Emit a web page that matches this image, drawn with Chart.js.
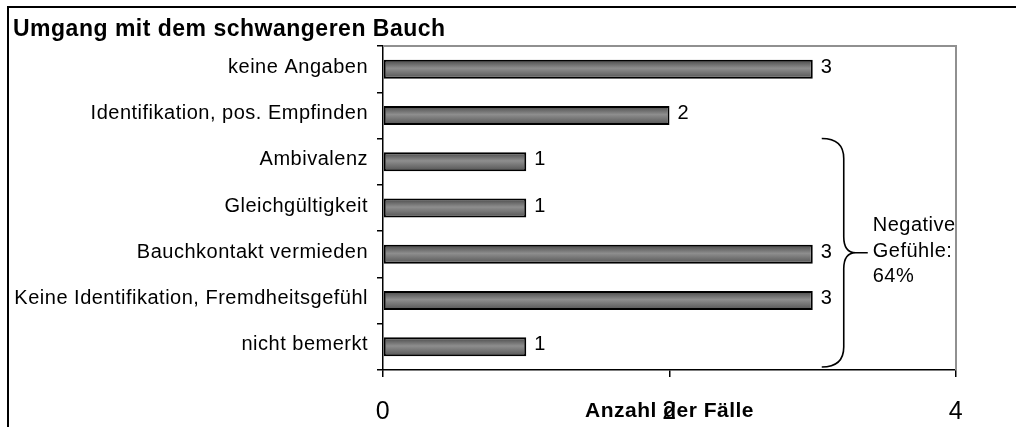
<!DOCTYPE html>
<html>
<head>
<meta charset="utf-8">
<title>Umgang mit dem schwangeren Bauch</title>
<script src="https://cdn.jsdelivr.net/npm/chart.js"></script>
<style>
  html, body { margin: 0; padding: 0; background: #fff; }
  #chart { display: block; }
</style>
</head>
<body>
<canvas id="chart" width="1016" height="427"></canvas>
<script>
// Daten
const categories = [
  'keine Angaben',
  'Identifikation, pos. Empfinden',
  'Ambivalenz',
  'Gleichgültigkeit',
  'Bauchkontakt vermieden',
  'Keine Identifikation, Fremdheitsgefühl',
  'nicht bemerkt'
];
const counts = [3, 2, 1, 1, 3, 3, 1];
const xTicks = [0, 2, 4];
// Klammer: von "Ambivalenz" bis "nicht bemerkt"
const braceFrom = 2;
const braceTo = 6;
const braceText = ['Negative', 'Gefühle:', '64%'];

Chart.defaults.font.family = "'Liberation Sans', Arial, sans-serif";
Chart.defaults.color = '#000';

function barFill(context) {
  const chart = context.chart;
  if (!chart.chartArea || !chart.scales.y) return '#777777';
  const y = chart.scales.y.getPixelForValue(context.dataIndex);
  const g = chart.ctx.createLinearGradient(0, y - 9, 0, y + 9);
  g.addColorStop(0, '#4a4a4a');
  g.addColorStop(0.45, '#8e8e8e');
  g.addColorStop(1, '#555555');
  return g;
}

const decor = {
  id: 'decor',
  beforeDraw(chart) {
    const c = chart.ctx;
    c.letterSpacing = '0.5px';
    // äußerer Rahmen (oben + links)
    c.save();
    c.strokeStyle = '#000';
    c.lineWidth = 2;
    c.beginPath();
    c.moveTo(8, chart.height);
    c.lineTo(8, 7);
    c.lineTo(chart.width, 7);
    c.stroke();
    c.restore();
  },
  beforeDatasetsDraw(chart) {
    const c = chart.ctx;
    const a = chart.chartArea;
    c.save();
    c.strokeStyle = '#909090';
    c.lineWidth = 2;
    c.beginPath();
    c.moveTo(a.left, a.top);
    c.lineTo(a.right, a.top);
    c.lineTo(a.right, a.bottom);
    c.stroke();
    c.restore();
  },
  afterDatasetsDraw(chart) {
    const c = chart.ctx;
    const meta = chart.getDatasetMeta(0);
    c.save();
    c.fillStyle = '#000';
    c.font = "20px 'Liberation Sans', Arial, sans-serif";
    c.textAlign = 'left';
    c.textBaseline = 'middle';
    meta.data.forEach((bar, i) => {
      c.fillText(String(counts[i]), bar.x + 8, bar.y - 2);
    });

    // geschweifte Klammer
    const ys = chart.scales.y, xs = chart.scales.x;
    const half = (ys.getPixelForValue(1) - ys.getPixelForValue(0)) / 2;
    const top = ys.getPixelForValue(braceFrom) - half;
    const bot = ys.getPixelForValue(braceTo) + half - 3;
    const mid = (top + bot) / 2;
    const x0 = xs.getPixelForValue(3) + 9;
    const x1 = x0 + 22;
    const x2 = x1 + 12;
    const x3 = x2 + 12;
    c.strokeStyle = '#000';
    c.lineWidth = 1.6;
    c.beginPath();
    c.moveTo(x0, top);
    c.quadraticCurveTo(x1, top, x1, top + 20);
    c.lineTo(x1, mid - 16);
    c.quadraticCurveTo(x1, mid, x2, mid);
    c.quadraticCurveTo(x1, mid, x1, mid + 16);
    c.lineTo(x1, bot - 20);
    c.quadraticCurveTo(x1, bot, x0, bot);
    c.moveTo(x2, mid);
    c.lineTo(x3, mid);
    c.stroke();

    c.font = "20px 'Liberation Sans', Arial, sans-serif";
    c.textBaseline = 'alphabetic';
    braceText.forEach((t, i) => {
      c.fillText(t, x3 + 5, mid - 21.5 + i * 25.5);
    });
    c.restore();
  }
};

const ctx = document.getElementById('chart').getContext('2d');
new Chart(ctx, {
  type: 'bar',
  data: {
    labels: categories,
    datasets: [{
      data: counts,
      backgroundColor: barFill,
      borderColor: '#000',
      borderWidth: 2,
      borderSkipped: false,
      barPercentage: 0.41,
      categoryPercentage: 1
    }]
  },
  options: {
    indexAxis: 'y',
    responsive: false,
    animation: false,
    devicePixelRatio: 1,
    layout: { padding: { left: 13, right: 60, top: 0, bottom: 0 } },
    plugins: {
      legend: { display: false },
      tooltip: { enabled: false },
      title: {
        display: true,
        text: 'Umgang mit dem schwangeren Bauch',
        align: 'start',
        color: '#000',
        font: { size: 23, weight: 'bold' },
        padding: { top: 15.5, bottom: 2.9 }
      }
    },
    scales: {
      x: {
        type: 'linear',
        min: 0,
        max: 4,
        afterBuildTicks(scale) {
          scale.ticks = xTicks.map(v => ({ value: v }));
        },
        afterFit(scale) { scale.height = 57; },
        ticks: { padding: 20, font: { size: 25 }, color: '#000', maxRotation: 0 },
        grid: { drawOnChartArea: false, tickLength: 7, color: '#000', lineWidth: 1.5 },
        border: { color: '#000', width: 1.5 },
        title: {
          display: true,
          text: 'Anzahl der Fälle',
          color: '#000',
          font: { size: 21, weight: 'bold' },
          padding: { top: 0, bottom: 3.5 }
        }
      },
      y: {
        afterFit(scale) { scale.width = 370; },
        ticks: { padding: 9, font: { size: 20 }, color: '#000', labelOffset: -2 },
        grid: { drawOnChartArea: false, offset: true, tickLength: 6, color: '#000', lineWidth: 1.5 },
        border: { color: '#000', width: 1.5 }
      }
    }
  },
  plugins: [decor]
});
</script>
</body>
</html>
